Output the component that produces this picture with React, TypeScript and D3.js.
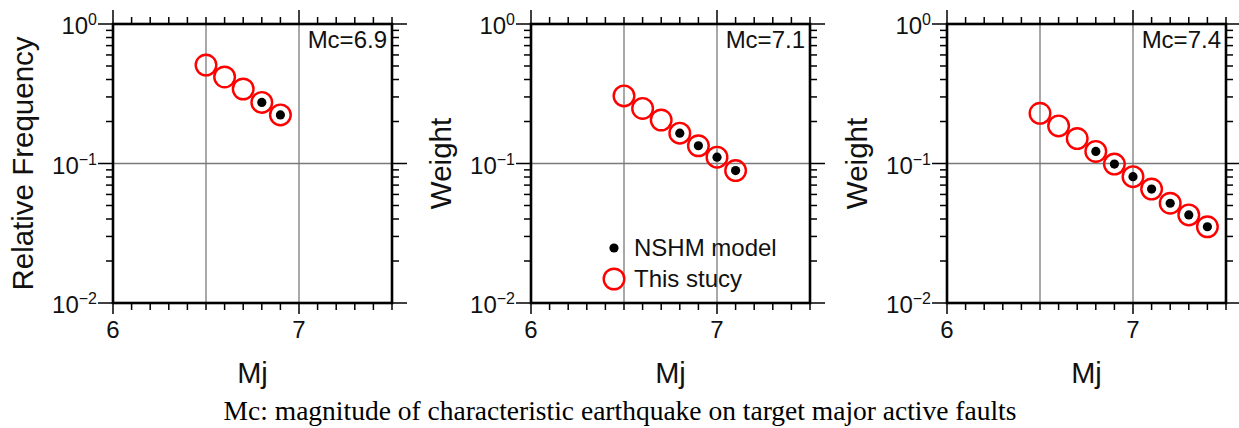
import React from "react";
import * as d3 from "d3";

// Magnitude bins and weights for each characteristic-magnitude case
const panelMc = ["6.9", "7.1", "7.4"];
const yTitles = ["Relative Frequency", "Weight", "Weight"];

const mags69 = [6.5, 6.6, 6.7, 6.8, 6.9];
const study69 = [0.508, 0.417, 0.342, 0.274, 0.223];
const nshmMags69 = [6.8, 6.9];
const nshm69 = [0.274, 0.223];

const mags71 = [6.5, 6.6, 6.7, 6.8, 6.9, 7.0, 7.1];
const study71 = [0.305, 0.248, 0.205, 0.165, 0.134, 0.111, 0.089];
const nshmMags71 = [6.8, 6.9, 7.0, 7.1];
const nshm71 = [0.165, 0.134, 0.111, 0.089];

const mags74 = [6.5, 6.6, 6.7, 6.8, 6.9, 7.0, 7.1, 7.2, 7.3, 7.4];
const study74 = [0.229, 0.186, 0.151, 0.122, 0.099, 0.0805, 0.0656, 0.0519, 0.0428, 0.0352];
const nshmMags74 = [6.8, 6.9, 7.0, 7.1, 7.2, 7.3, 7.4];
const nshm74 = [0.122, 0.099, 0.0805, 0.0656, 0.0519, 0.0428, 0.0352];

const xTickLabels = [6, 7];
const yDecades = [0, -1, -2];
const xDomain: [number, number] = [6, 7.5];
const yDomain: [number, number] = [0.01, 1];

const panels = [
  { mags: mags69, study: study69, nshmMags: nshmMags69, nshm: nshm69 },
  { mags: mags71, study: study71, nshmMags: nshmMags71, nshm: nshm71 },
  { mags: mags74, study: study74, nshmMags: nshmMags74, nshm: nshm74 },
];

const W = 1239;
const H = 428;
const plotLefts = [113, 531, 947];
const plotW = 279;
const top = 24;
const bottom = 303;
const RED = "#ff0000";
const SANS = "'Liberation Sans', Arial, Helvetica, sans-serif";
const SERIF = "'Liberation Serif', 'Times New Roman', serif";

function Panel({ idx }: { idx: number }) {
  const left = plotLefts[idx];
  const right = left + plotW;
  const p = panels[idx];
  const x = d3.scaleLinear().domain(xDomain).range([left, right]);
  const y = d3.scaleLog().domain(yDomain).range([bottom, top]);

  const xMinor = d3.range(60, 76).map((v) => v / 10);
  const yMinor: number[] = [];
  [-2, -1].forEach((e) => {
    for (let k = 2; k <= 9; k++) yMinor.push(k * Math.pow(10, e));
  });

  const cx = (left + right) / 2;
  const cy = (top + bottom) / 2;

  return (
    <g>
      {/* grid */}
      {[6.5, 7].map((v) => (
        <line key={"gx" + v} x1={x(v)} x2={x(v)} y1={top} y2={bottom} stroke="#7a7a7a" strokeWidth={1.3} />
      ))}
      <line x1={left} x2={right} y1={y(0.1)} y2={y(0.1)} stroke="#7a7a7a" strokeWidth={1.3} />

      {/* x ticks top & bottom */}
      {xMinor.map((v) => {
        const major = Math.abs(v - Math.round(v)) < 1e-6;
        const len = major ? 14 : 7;
        return (
          <g key={"xt" + v}>
            <line x1={x(v)} x2={x(v)} y1={top} y2={top - len} stroke="#000" strokeWidth={1.5} />
            <line x1={x(v)} x2={x(v)} y1={bottom} y2={bottom + (major ? 11 : 7)} stroke="#000" strokeWidth={1.5} />
          </g>
        );
      })}
      {/* y ticks left & right */}
      {yMinor.map((v) => (
        <g key={"yt" + v}>
          <line x1={left} x2={left - 7} y1={y(v)} y2={y(v)} stroke="#000" strokeWidth={1.5} />
          <line x1={right} x2={right + 7} y1={y(v)} y2={y(v)} stroke="#000" strokeWidth={1.5} />
        </g>
      ))}
      {yDecades.map((e) => (
        <g key={"yd" + e}>
          <line x1={left} x2={left - 15} y1={y(Math.pow(10, e))} y2={y(Math.pow(10, e))} stroke="#000" strokeWidth={1.5} />
          <line x1={right} x2={right + 15} y1={y(Math.pow(10, e))} y2={y(Math.pow(10, e))} stroke="#000" strokeWidth={1.5} />
        </g>
      ))}

      {/* frame */}
      <rect x={left} y={top} width={plotW} height={bottom - top} fill="none" stroke="#000" strokeWidth={2.6} />

      {/* tick labels */}
      {xTickLabels.map((v) => (
        <text key={"xl" + v} x={x(v)} y={bottom + 35} textAnchor="middle" fontFamily={SANS} fontSize={24} fill="#111">
          {v}
        </text>
      ))}
      {yDecades.map((e) => (
        <text key={"yl" + e} x={left - 16} y={y(Math.pow(10, e)) + 10} textAnchor="end" fontFamily={SANS} fontSize={24} fill="#111">
          10
          <tspan fontSize={16} dy={-9}>
            {e === 0 ? "0" : "\u2212" + Math.abs(e)}
          </tspan>
        </text>
      ))}

      {/* titles */}
      <text x={right - 5} y={top + 24} textAnchor="end" fontFamily={SANS} fontSize={24} fill="#111">
        {"Mc=" + panelMc[idx]}
      </text>
      <text x={cx} y={bottom + 80} textAnchor="middle" fontFamily={SANS} fontSize={29} fill="#111">
        Mj
      </text>
      <text
        transform={`translate(${left - 80},${cy}) rotate(-90)`}
        textAnchor="middle"
        fontFamily={SANS}
        fontSize={29.5}
        fill="#111"
      >
        {yTitles[idx]}
      </text>

      {/* NSHM model points */}
      {p.nshmMags.map((m, i) => (
        <circle key={"n" + m} cx={x(m)} cy={y(p.nshm[i])} r={4.6} fill="#000" />
      ))}
      {/* this study */}
      {p.mags.map((m, i) => (
        <circle key={"s" + m} cx={x(m)} cy={y(p.study[i])} r={10.3} fill="none" stroke={RED} strokeWidth={2.4} />
      ))}

      {idx === 1 && (
        <g>
          <circle cx={left + 83} cy={248} r={4.6} fill="#000" />
          <circle cx={left + 83} cy={279} r={10.3} fill="none" stroke={RED} strokeWidth={2.4} />
          <text x={left + 103} y={256} fontFamily={SANS} fontSize={24} fill="#111">
            NSHM model
          </text>
          <text x={left + 103} y={287} fontFamily={SANS} fontSize={24} fill="#111">
            This stucy
          </text>
        </g>
      )}
    </g>
  );
}

export default function App() {
  return (
    <svg
      width={W}
      height={H}
      viewBox={`0 0 ${W} ${H}`}
      style={{ position: "absolute", left: 0, top: 0, background: "#fff" }}
    >
      <rect width={W} height={H} fill="#fff" />
      {[0, 1, 2].map((i) => (
        <Panel key={i} idx={i} />
      ))}
      <text x={620} y={420} textAnchor="middle" fontFamily={SERIF} fontSize={27.5} fill="#000">
        Mc: magnitude of characteristic earthquake on target major active faults
      </text>
    </svg>
  );
}
